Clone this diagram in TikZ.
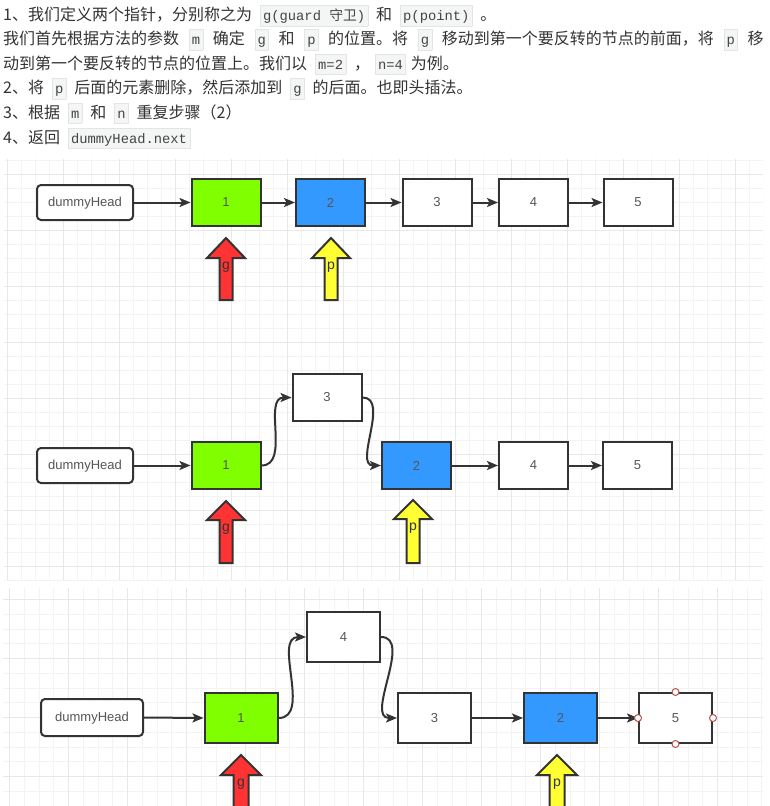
\documentclass[tikz,border=0pt]{standalone}
\usepackage{fontspec}
\usetikzlibrary{arrows.meta}
\newfontfamily\cjk{Noto Sans CJK SC}
\newfontfamily\monof{Liberation Mono}
\newfontfamily\lsans{Liberation Sans}
\definecolor{edge}{HTML}{333333}
\definecolor{nodetext}{HTML}{555555}
\definecolor{txt}{HTML}{333333}
\definecolor{codebg}{HTML}{F4F5F5}
\definecolor{codebd}{HTML}{E4E4E4}
\definecolor{codefg}{HTML}{444444}
\definecolor{gminor}{HTML}{F3F3F3}
\definecolor{gmajor}{HTML}{E8E8E8}
\definecolor{ngreen}{HTML}{80FF00}
\definecolor{nblue}{HTML}{3399FF}
\definecolor{ared}{HTML}{FF3333}
\definecolor{ayellow}{HTML}{FFFF33}
\definecolor{handle}{HTML}{B85450}
\newlength\codegap
\setlength\codegap{8pt}
\newcommand\codebox[1]{\hspace{\codegap}{\setlength\fboxsep{2.5pt}\setlength\fboxrule{0.5pt}\fcolorbox{codebd}{codebg}{\fontsize{13.8}{16}\selectfont\monof\color{codefg}\rule[-2.5pt]{0pt}{15pt}#1}}\hspace{\codegap}}
\newcommand\blockarrow[9]{% name, cx, top, headbottom, bottom, halfhead, halfshaft, fill, label
  \draw[barrow, fill=#8] (#2,#3) -- ({#2+#6},#4) -- ({#2+#7},#4) -- ({#2+#7},#5) -- ({#2-#7},#5) -- ({#2-#7},#4) -- ({#2-#6},#4) -- cycle;
  \node[alabel] (#1) at (#2,{#4+9.5}) {#9};
}
\tikzset{
  textline/.style={anchor=base west, inner sep=0pt, font=\cjk\fontsize{16}{20}\selectfont, text=txt},
  lnode/.style={draw=edge, line width=2pt, inner sep=0pt, font=\lsans\fontsize{13}{15}\selectfont, text=nodetext},
  dummy/.style={lnode, fill=white, rounded corners=4pt, minimum width=96pt, minimum height=35pt, text depth=2pt},
  boxA/.style={lnode, fill=white, minimum width=69pt, minimum height=47pt},
  boxC/.style={lnode, fill=white, minimum width=73pt, minimum height=50pt},
  conn/.style={draw=edge, line width=2pt, -{Stealth[length=11pt,width=9pt,inset=2.5pt]}},
  barrow/.style={draw=edge, line width=2pt, line join=miter},
  alabel/.style={inner sep=0pt, font=\lsans\fontsize{14}{15}\selectfont, text=edge},
  gridmin/.style={draw=gminor, line width=1pt},
  gridmaj/.style={draw=gmajor, line width=1pt},
  hnd/.style={draw=handle, fill=white, line width=1pt}
}
\begin{document}
\begin{tikzpicture}[x=1pt,y=-1pt]
\useasboundingbox (0,0) rectangle (769,806);
\fill[white] (0,0) rectangle (769,806);
% ---- text ----
\node[textline] (t1) at (3,20.6) {1、我们定义两个指针，分别称之为\codebox{g(guard {\cjk 守卫})}和\codebox{p(point)}。};
\node[textline] (t2) at (3,44.6) {\setlength\codegap{9.7pt}我们首先根据方法的参数\codebox{m}确定\codebox{g}和\codebox{p}的位置。将\codebox{g}移动到第一个要反转的节点的前面，将\codebox{p}移};
\node[textline] (t3) at (3,69.1) {动到第一个要反转的节点的位置上。我们以\codebox{m=2}，\kern-3pt\codebox{n=4}\kern-3pt 为例。};
\node[textline] (t4) at (3,93.6) {2、将\codebox{p}后面的元素删除，然后添加到\codebox{g}的后面。也即头插法。};
\node[textline] (t5) at (3,118.1) {3、根据\codebox{m}和\codebox{n}重复步骤（2）};
\node[textline] (t6) at (3,143.1) {4、返回\codebox{dummyHead.next}};
% ---- grid A ----
\begin{scope}
  \clip (4,159) rectangle (763,580);
  \foreach \i in {0,...,54} {\draw[gridmin] ({7+14*\i},159) -- ({7+14*\i},580);}
  \foreach \j in {0,...,30} {\draw[gridmin] (4,{160+14*\j}) -- (763,{160+14*\j});}
  \foreach \i in {0,...,13} {\draw[gridmaj] ({7+56*\i},159) -- ({7+56*\i},580);}
  \foreach \j in {0,...,7} {\draw[gridmaj] (4,{174+56*\j}) -- (763,{174+56*\j});}
\end{scope}
% ---- grid B ----
\begin{scope}
  \clip (3,588) rectangle (763,806);
  \foreach \i in {0,...,51} {\draw[gridmin] ({9.5+14.75*\i},588) -- ({9.5+14.75*\i},806);}
  \foreach \j in {0,...,14} {\draw[gridmin] (3,{599.5+14.75*\j}) -- (763,{599.5+14.75*\j});}
  \foreach \i in {0,...,12} {\draw[gridmaj] ({9.5+59*\i},588) -- ({9.5+59*\i},806);}
  \foreach \j in {0,...,3} {\draw[gridmaj] (3,{599.5+59*\j}) -- (763,{599.5+59*\j});}
\end{scope}
% ---- panel 1 ----
\node[dummy] (dh1) at (85,202.5) {dummyHead};
\node[boxA, fill=ngreen] (n1a) at (226,202.5) {1};
\node[boxA, fill=nblue] (n2a) at (330.5,202.5) {2};
\node[boxA] (n3a) at (437,202.5) {3};
\node[boxA] (n4a) at (533.5,202.5) {4};
\node[boxA] (n5a) at (638,202.5) {5};
\draw[conn] (dh1.east) -- (n1a.west);
\draw[conn] (n1a.east) -- (n2a.west);
\draw[conn] (n2a.east) -- (n3a.west);
\draw[conn] (n3a.east) -- (n4a.west);
\draw[conn] (n4a.east) -- (n5a.west);
\blockarrow{ga}{226}{238}{258}{300}{19}{6.5}{ared}{g}
\blockarrow{pa}{331}{238}{258}{300}{19}{6.5}{ayellow}{p}
% ---- panel 2 ----
\node[dummy] (dh2) at (85,465.5) {dummyHead};
\node[boxA, fill=ngreen] (n1b) at (226,465.5) {1};
\node[boxA] (n3b) at (327,397.5) {3};
\node[boxA, fill=nblue] (n2b) at (416.5,465.5) {2};
\node[boxA] (n4b) at (533.5,465.5) {4};
\node[boxA] (n5b) at (637.5,465.5) {5};
\draw[conn] (dh2.east) -- (n1b.west);
\draw[conn] (n1b.east) to[out=0,in=180] (n3b.west);
\draw[conn] (n3b.east) to[out=0,in=180] (n2b.west);
\draw[conn] (n2b.east) -- (n4b.west);
\draw[conn] (n4b.east) -- (n5b.west);
\blockarrow{gb}{226}{501}{520}{563}{19}{6.5}{ared}{g}
\blockarrow{pb}{413}{500}{519}{563}{19}{6.5}{ayellow}{p}
% ---- panel 3 ----
\node[dummy, minimum width=102pt, minimum height=37pt] (dh3) at (92,717.5) {dummyHead};
\node[boxC, fill=ngreen] (n1c) at (241,718) {1};
\node[boxC] (n4c) at (343.5,637) {4};
\node[boxC] (n3c) at (434.5,718) {3};
\node[boxC, fill=nblue] (n2c) at (560.5,718) {2};
\node[boxC] (n5c) at (675.5,718) {5};
\draw[conn] (dh3.east) -- (n1c.west);
\draw[conn] (n1c.east) to[out=0,in=180] (n4c.west);
\draw[conn] (n4c.east) to[out=0,in=180] (n3c.west);
\draw[conn] (n3c.east) -- (n2c.west);
\draw[conn] (n2c.east) -- (n5c.west);
\foreach \a in {north,south,east,west} {\draw[hnd] (n5c.\a) circle[radius=3.5pt];}
\blockarrow{gc}{241}{755}{775}{812}{20}{7.5}{ared}{g}
\blockarrow{pc}{557}{755}{775}{812}{20}{7.5}{ayellow}{p}
\end{tikzpicture}
\end{document}
